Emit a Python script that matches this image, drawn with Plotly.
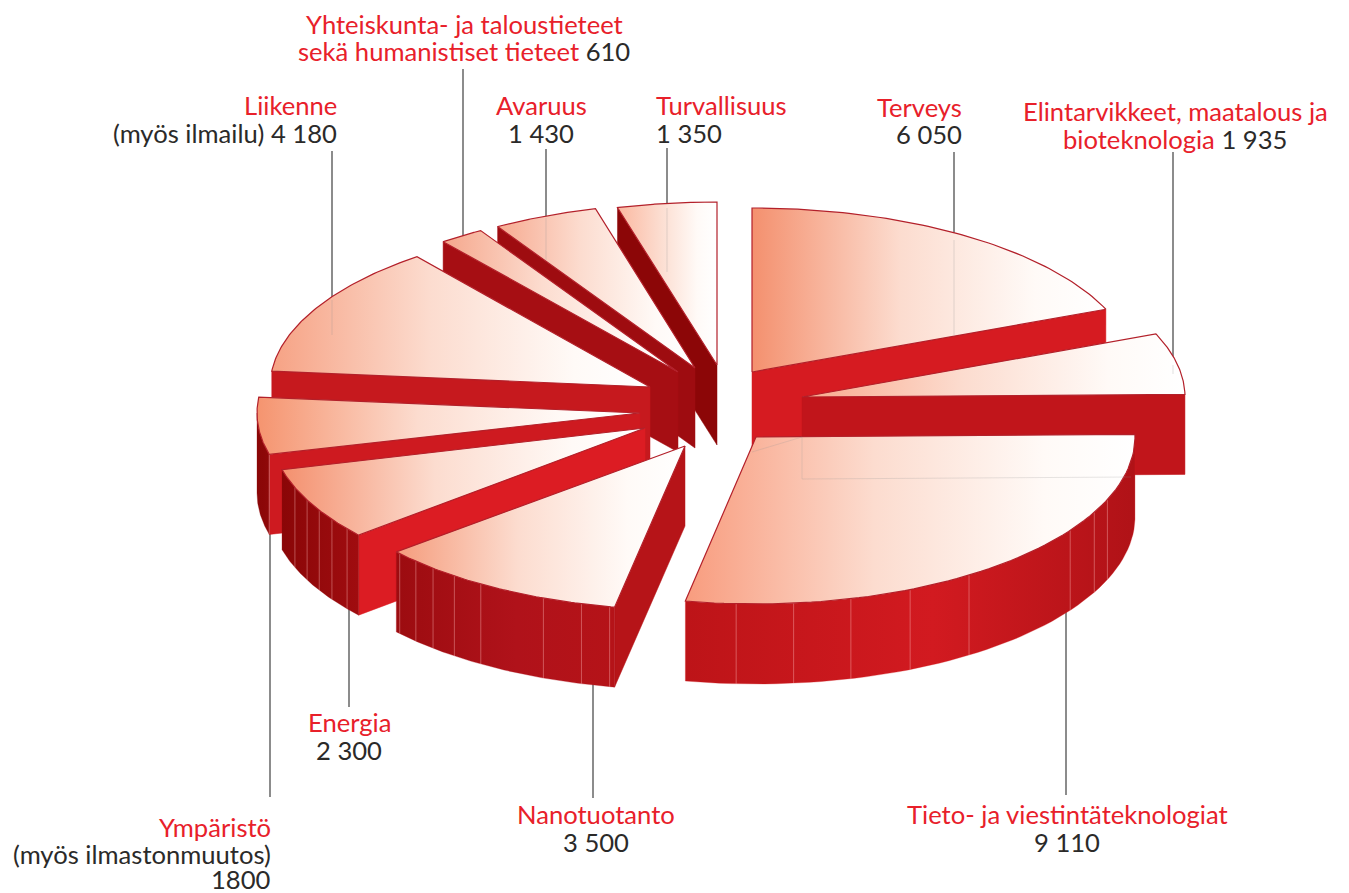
import math
import numpy as np
import plotly.graph_objects as go

# ---- data (clockwise from 12 o'clock) ----
categories = ["Terveys", "Elintarvikkeet, maatalous ja bioteknologia", "Tieto- ja viestintäteknologiat",
              "Nanotuotanto", "Energia", "Ympäristö", "Liikenne",
              "Yhteiskunta- ja taloustieteet sekä humanistiset tieteet", "Avaruus", "Turvallisuus"]
values = [6050, 1935, 9110, 3500, 2300, 1800, 4180, 610, 1430, 1350]
value_labels = ["6 050", "1 935", "9 110", "3 500", "2 300", "1800", "4 180", "610", "1 430", "1 350"]

# ---- styling and exploded-pie layout ----
RED = "#e8202a"
INK = "#2b2a29"
FONT = "Lato"
FS = 25.6
DEPTH = 80
pull_x = [752, 802, 756, 685, 645, 640, 650, 678, 695, 717]
pull_y = [372, 397, 437, 446, 428, 413, 387, 372, 368, 365]
radius_x = [383, 383, 379, 378, 375, 383, 380, 383, 383, 383]
radius_y = [164, 165, 167, 164, 166, 165, 165, 165, 165, 163]
edge_wall = ["end", "end", None, "start", "start", "start", "start", "start", "start", "start"]
edge_col = ["#d61b21", "#c1151b", None, "#b61418", "#dc1c23", "#ce1a20", "#c6191e", "#a60e13", "#9e0c10", "#8c0607"]
rim_cols = [None, None, ["#bd1418", "#d21a20", "#b01217"], ["#9c0c10", "#b0121a", "#b51318"],
            ["#8a0607", "#960a0c", "#a00c0f"], ["#8a0607", "#8c0708", "#900809"], None, None, None, None]
rim_seams = {2: [93, 84.3, 75.5, 66, 55.8, 34, 26.8, 22],
             3: [139, 135.4, 131.8, 127.6, 122.7, 112, 105.9, 101.5],
             4: [159, 154.3, 150.3, 146.6, 142.6], 5: [165.5]}
top_left = ["#f4906e", "#f9a98c", "#f89c7e", "#f59c7c", "#f4906e", "#f5946f", "#f6a284", "#f5a78c", "#f7aa90", "#fbb8a0"]
draw_order = [0, 1, 2, 9, 8, 7, 6, 5, 4, 3]

# leader x, leader start y, leader end y, faint continuation end y
leaders = [(954, 152, 240, 335), (1173, 152, 365, 374), (1066, 795, 600, None), (593, 798, 660, None),
           (349, 707, 590, None), (270, 797, 520, None), (332, 151, 300, 335), (463, 69, 240, None),
           (546, 149, 218, 260), (667, 148, 208, 272)]

# (category line / ink line): x, y, anchor, text, colour
text_lines = [
    (464, 24, "center", "Yhteiskunta- ja taloustieteet", RED),
    (464, 51, "center", f"<span style='color:{RED}'>sekä humanistiset tieteet</span> {value_labels[7]}", INK),
    (339, 105, "right", "Liikenne", RED),
    (339, 133, "right", f"(myös ilmailu) {value_labels[6]}", INK),
    (541, 105, "center", "Avaruus", RED),
    (541, 133, "center", value_labels[8], INK),
    (721, 105, "center", "Turvallisuus", RED),
    (654, 133, "left", value_labels[9], INK),
    (964, 107, "right", "Terveys", RED),
    (964, 134, "right", value_labels[0], INK),
    (1175, 111, "center", "Elintarvikkeet, maatalous ja", RED),
    (1175, 139, "center", f"<span style='color:{RED}'>bioteknologia</span> {value_labels[1]}", INK),
    (349, 722, "center", "Energia", RED),
    (349, 750, "center", value_labels[4], INK),
    (273, 827, "right", "Ympäristö", RED),
    (273, 854, "right", "(myös ilmastonmuutos)", INK),
    (273, 879, "right", value_labels[5], INK),
    (596, 814, "center", "Nanotuotanto", RED),
    (596, 842, "center", value_labels[3], INK),
    (1067, 814, "center", "Tieto- ja viestintäteknologiat", RED),
    (1067, 842, "center", value_labels[2], INK),
]

# ---- geometry from values ----
total = sum(values)
edges = -90 + np.concatenate([[0], np.cumsum(values)]) / total * 360


def rim(i, t):
    a = np.radians(t)
    return pull_x[i] + radius_x[i] * np.cos(a), pull_y[i] + radius_y[i] * np.sin(a)


fig = go.Figure()


def poly(xs, ys, **kw):
    fig.add_trace(go.Scatter(x=list(xs), y=list(ys), mode="lines", fill="toself", hoverinfo="skip",
                             showlegend=False, **kw))


def line(xs, ys, color, width):
    fig.add_trace(go.Scatter(x=list(xs), y=list(ys), mode="lines", hoverinfo="skip", showlegend=False,
                             line=dict(color=color, width=width)))


for (lx, y0, y1, _) in leaders:
    line([lx, lx], [y0, y1], "#666666", 1.5)

for i in draw_order:
    t0, t1 = edges[i], edges[i + 1]
    ax, ay = pull_x[i], pull_y[i]
    # radial wall
    if edge_wall[i]:
        te = t0 if edge_wall[i] == "start" else t1
        rx_, ry_ = rim(i, te)
        poly([ax, rx_, rx_, ax, ax], [ay, ry_, ry_ + DEPTH, ay + DEPTH, ay],
             fillcolor=edge_col[i], line=dict(color=edge_col[i], width=0.5))
    # rim wall
    if rim_cols[i]:
        ts = np.linspace(t0, min(t1, 180), 60)
        rxs, rys = rim(i, ts)
        c = rim_cols[i]
        poly(np.r_[rxs, rxs[::-1], rxs[0]], np.r_[rys, rys[::-1] + DEPTH, rys[0]],
             line=dict(color=c[1], width=0.3),
             fillgradient=dict(type="horizontal", colorscale=[[0, c[0]], [0.55, c[1]], [1, c[2]]]))
        sx, sy = [], []
        for s in rim_seams.get(i, []):
            x_, y_ = rim(i, s)
            sx += [x_, x_, None]
            sy += [y_, y_ + DEPTH, None]
        if sx:
            line(sx, sy, "rgba(255,190,190,0.5)", 0.8)
    # top face
    ts = np.linspace(t0, t1, 70)
    rxs, rys = rim(i, ts)
    poly(np.r_[ax, rxs, ax], np.r_[ay, rys, ay],
         line=dict(color="#b3202a", width=1.2),
         fillgradient=dict(type="horizontal",
                           colorscale=[[0, top_left[i]], [0.42, "#fcdccf"], [0.8, "#fffaf7"], [1, "#ffffff"]]))

# faint see-through edges
for (lx, y0, y1, y2) in leaders:
    if y2:
        line([lx, lx], [y1, y2], "rgba(150,150,150,0.35)", 0.8)
gx, gy = pull_x[1], pull_y[1] + DEPTH
line([gx, gx, rim(2, 0)[0] - 4], [pull_y[2], gy + 2, gy], "rgba(150,150,150,0.3)", 0.8)
line([pull_x[0], gx], [pull_y[2] + 15, pull_y[2]], "rgba(150,150,150,0.3)", 0.8)

annotations = [dict(x=x, y=y, xref="x", yref="y", text=t, showarrow=False, xanchor=a, yanchor="middle",
                    font=dict(family=FONT, size=FS, color=c)) for x, y, a, t, c in text_lines]

fig.update_layout(width=1349, height=893, margin=dict(l=0, r=0, t=0, b=0), paper_bgcolor="white",
                  plot_bgcolor="white", showlegend=False, annotations=annotations,
                  xaxis=dict(range=[0, 1349], visible=False, fixedrange=True),
                  yaxis=dict(range=[893, 0], visible=False, fixedrange=True))
fig.write_html("out.html", config=dict(displayModeBar=False),
               post_script="document.body.style.margin='0';document.body.style.overflow='hidden';")
